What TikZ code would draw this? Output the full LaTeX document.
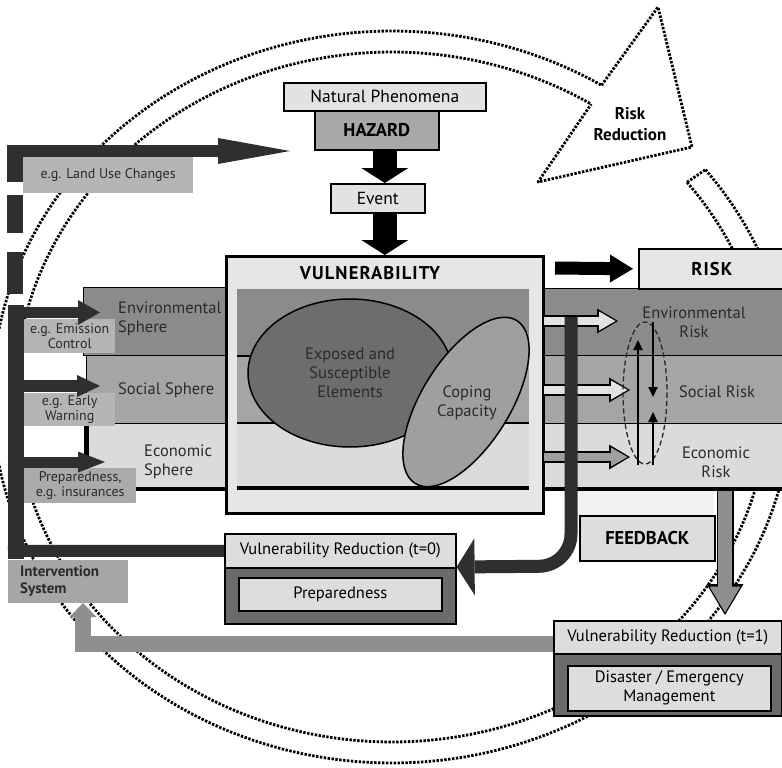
\documentclass[tikz,border=0pt]{standalone}
\usepackage{fontspec}
\setmainfont{PT Sans}
\usetikzlibrary{arrows.meta,shapes.geometric,calc}

\definecolor{bandenv}{HTML}{8B8B8B}
\definecolor{bandsoc}{HTML}{A5A5A5}
\definecolor{bandeco}{HTML}{DBDBDB}
\definecolor{lightA}{HTML}{E2E2E2}
\definecolor{lightB}{HTML}{DDDDDD}
\definecolor{boxlight}{HTML}{E6E6E6}
\definecolor{bardark}{HTML}{2F2F2F}
\definecolor{arrowgray}{HTML}{8F8F8F}
\definecolor{exposedgray}{HTML}{6D6D6D}
\definecolor{copinggray}{HTML}{9F9F9F}
\definecolor{hazardgray}{HTML}{A8A8A8}
\definecolor{notegray}{HTML}{B5B5B5}
\definecolor{notegrayB}{HTML}{AAAAAA}
\definecolor{intervgray}{HTML}{A6A6A6}
\definecolor{inkgray}{HTML}{2A2A2A}
\definecolor{framedark}{HTML}{6B6B6B}
\definecolor{stripgray}{HTML}{F1F1F1}

\tikzset{
  ringline/.style={draw=black, line width=2.8pt, dash pattern=on 2.4pt off 1.5pt},
  framebox/.style={draw=black, line width=1.6pt, inner sep=0pt, anchor=north west},
  txt/.style={inner sep=0pt, align=center, font=\fontsize{16.5}{19}\selectfont},
  smalltxt/.style={inner sep=0pt, align=center, text=inkgray, font=\fontsize{14}{15}\selectfont},
  headtxt/.style={inner sep=0pt, align=center, font=\bfseries\fontsize{18.5}{21}\selectfont},
  notebox/.style={fill=notegray, inner sep=0pt, anchor=north west},
  bandline/.style={draw=black, line width=1.2pt},
}

\begin{document}
\begin{tikzpicture}[x=1pt,y=-1pt]
\useasboundingbox (0,0) rectangle (782,768);
\clip (0,0) rectangle (782,768);
\fill[white] (0,0) rectangle (782,768);

% ---------- the dotted risk-reduction cycle ----------
\draw[ringline] plot[domain=-38.4:301.6, samples=220] ({392+400*cos(\x)},{397+366*sin(\x)});
\draw[ringline] plot[domain=-38.5:301.9, samples=220] ({392+377*cos(\x)},{397+345*sin(\x)});
\coordinate (oHead) at ({392+400*cos(301.6)},{397+366*sin(301.6)});
\coordinate (iHead) at ({392+377*cos(301.9)},{397+345*sin(301.9)});
\coordinate (oTail) at ({392+400*cos(-38.4)},{397+366*sin(-38.4)});
\coordinate (iTail) at ({392+377*cos(-38.5)},{397+345*sin(-38.5)});
\coordinate (rrTop) at (658,7);
\coordinate (rrTip) at (692,147);
\coordinate (rrLow) at (538,182);
\draw[ringline, line join=round] (oHead) -- (rrTop) -- (rrTip) -- (rrLow) -- (iHead);
\draw[ringline] (iTail) -- (oTail);
\node[headtxt, font=\bfseries\fontsize{17}{21}\selectfont] (rrT) at (630,124) {Risk\\Reduction};

% ---------- intervention column on the left ----------
\fill[bardark] (7,145) rectangle (23,182);
\fill[bardark] (7,195) rectangle (23,233);
\fill[bardark] (7,252) rectangle (23,294);

\node[notebox, minimum width=170pt, minimum height=36pt, smalltxt] (landuse) at (23,157) {e.g. Land Use Changes};
\coordinate (luStart) at (7,151);
\coordinate (luTip) at (290,151);
\draw[bardark, line width=12pt, -{Triangle[length=72pt,width=26pt,line width=0pt]}] (luStart) -- (luTip);

% spheres
\node[bandline, fill=bandenv, anchor=north west, inner sep=0pt, minimum width=145pt, minimum height=68pt] (envBand) at (83,287) {};
\node[bandline, fill=bandsoc, anchor=north west, inner sep=0pt, minimum width=142pt, minimum height=68pt] (socBand) at (86,355) {};
\node[bandline, fill=bandeco, anchor=north west, inner sep=0pt, minimum width=140pt, minimum height=66pt] (ecoBand) at (88,423) {};
\draw[line width=4pt] (136,489) -- (228,489);
\draw[line width=4pt] (86,423) -- (86,456);
\node[txt, anchor=west, align=left, text=inkgray] (envS) at (118,319) {Environmental\\Sphere};
\node[txt, anchor=west, text=inkgray] (socS) at (118,390) {Social Sphere};
\node[txt, anchor=west, align=left, text=inkgray] (ecoS) at (144,462) {Economic\\Sphere};

\node[notebox, minimum width=91pt, minimum height=34pt, smalltxt] (emission) at (24,319) {e.g. Emission\\Control};
\node[notebox, minimum width=91pt, minimum height=33pt, smalltxt] (early) at (24,393) {e.g. Early\\Warning};
\node[notebox, fill=notegrayB, minimum width=112pt, minimum height=35pt, smalltxt] (prepnote) at (24,468) {Preparedness,\\e.g. insurances};

\coordinate (colTop) at (16,305);
\coordinate (colBottom) at (16,559);
\draw[bardark, line width=16pt] (colTop) -- (colBottom);
\coordinate (envIn) at (100,312.5);
\coordinate (socIn) at (100,386);
\coordinate (ecoIn) at (105,462);
\draw[bardark, line width=11pt, -{Triangle[length=22pt,width=25pt,line width=0pt]}] (13,312.5) -- (envIn);
\draw[bardark, line width=12pt, -{Triangle[length=23pt,width=22pt,line width=0pt]}] (13,386) -- (socIn);
\draw[bardark, line width=11pt, -{Triangle[length=27pt,width=21pt,line width=0pt]}] (13,462) -- (ecoIn);

\node[notebox, fill=intervgray, minimum width=120pt, minimum height=43pt] (interv) at (8,560) {};
\node[anchor=west, align=left, inner sep=0pt, font=\bfseries\fontsize{15}{17}\selectfont, text=inkgray] (intervT) at (20,581.5) {Intervention\\System};

% ---------- risk bands on the right ----------
\node[bandline, fill=bandenv, anchor=north west, inner sep=0pt, minimum width=250pt, minimum height=67pt] (envRisk) at (542,288) {};
\node[bandline, fill=bandsoc, anchor=north west, inner sep=0pt, minimum width=250pt, minimum height=68pt] (socRisk) at (542,355) {};
\node[bandline, fill=bandeco, anchor=north west, inner sep=0pt, minimum width=250pt, minimum height=66pt] (ecoRisk) at (542,423) {};
\draw[line width=4pt] (542,489) -- (790,489);
\node[txt, text=inkgray] (envRT) at (694,322) {Environmental\\Risk};
\node[txt, text=inkgray] (socRT) at (717,392) {Social Risk};
\node[txt, text=inkgray] (ecoRT) at (716,462) {Economic\\Risk};

% ---------- hazard chain ----------
\node[framebox, fill=lightA, minimum width=202pt, minimum height=28pt, txt, font=\fontsize{17.5}{19}\selectfont] (natural) at (283,82) {Natural Phenomena};
\node[framebox, fill=hazardgray, minimum width=124pt, minimum height=39pt, headtxt] (hazard) at (314,110) {HAZARD};
\node[framebox, fill=lightA, minimum width=94pt, minimum height=29pt, txt, font=\fontsize{17.5}{19}\selectfont] (event) at (330,183) {Event};

% ---------- vulnerability ----------
\node[draw=black, line width=3pt, fill=boxlight, anchor=north west, inner sep=0pt, minimum width=317pt, minimum height=257pt] (vuln) at (225,255) {};
\fill[bandenv] (237,289) rectangle (529,356);
\fill[bandsoc] (237,356) rectangle (529,423);
\fill[bandeco] (237,423) rectangle (529,488);
\draw[line width=1.2pt] (237,356) -- (529,356) (237,423) -- (529,423);
\draw[line width=4.5pt] (237,488) -- (529,488);
\node[headtxt] (vulnT) at (370,273) {\addfontfeature{LetterSpace=6}VULNERABILITY};
\node[draw=black, line width=1.5pt, ellipse, fill=exposedgray, minimum width=204pt, minimum height=148pt, inner sep=0pt, txt, text=inkgray] (exposed) at (350,373) {Exposed and\\Susceptible\\Elements};
\node[draw=black, line width=1.5pt, ellipse, fill=copinggray, minimum width=192pt, minimum height=88pt, rotate=58, inner sep=0pt] (coping) at (466,402) {};
\node[txt, text=inkgray] (copingT) at (467,403) {Coping\\Capacity};

\draw[black, line width=24pt, -{Triangle[length=15pt,width=47pt,line width=0pt]}] (hazard.south -| natural.south) -- (event.north -| natural.south);
\draw[black, line width=24pt, -{Triangle[length=15pt,width=47pt,line width=0pt]}] (event.south -| natural.south) -- (vuln.north -| natural.south);

% ---------- risk ----------
\node[framebox, fill=boxlight, minimum width=146pt, minimum height=40pt, headtxt] (risk) at (638,248) {\addfontfeature{LetterSpace=6}RISK};
\draw[black, line width=13pt, -{Triangle[length=23pt,width=28pt,line width=0pt]}] (555,268) -- ($(risk.west)+(-5,0)$);

% outlined arrows from vulnerability into the risk bands
\draw[black, line width=12pt, -{Triangle[length=21pt,width=25pt,line width=0pt]}] (543.5,321) -- (618,321);
\draw[lightA, line width=8.5pt, shorten >=2.5pt, -{Triangle[length=16.5pt,width=19pt,line width=0pt]}] (543.5,321) -- (618,321);
\draw[black, line width=12pt, -{Triangle[length=21pt,width=25pt,line width=0pt]}] (543.5,390) -- (630,390);
\draw[lightA, line width=8.5pt, shorten >=2.5pt, -{Triangle[length=16.5pt,width=19pt,line width=0pt]}] (543.5,390) -- (630,390);
\draw[black, line width=12pt, -{Triangle[length=21pt,width=25pt,line width=0pt]}] (543.5,457) -- (630,457);
\draw[copinggray, line width=8.5pt, shorten >=2.5pt, -{Triangle[length=16.5pt,width=19pt,line width=0pt]}] (543.5,457) -- (630,457);

% interaction between the risk spheres
\draw[black!85, line width=1.3pt, dash pattern=on 5pt off 3pt] (645,393) ellipse [x radius=22, y radius=71];
\draw[black, line width=2pt, -{Triangle[length=10pt,width=9pt]}] (638,465) -- (638,340);
\draw[black, line width=2pt, -{Triangle[length=10pt,width=9pt]}] (653,322) -- (653,397);
\draw[black, line width=2pt, -{Triangle[length=10pt,width=9pt]}] (653,465) -- (653,412);

% ---------- reduction at t=0 ----------
\node[framebox, fill=lightB, minimum width=231pt, minimum height=34pt, txt] (vr0) at (224,533) {Vulnerability Reduction (t=0)};
\node[framebox, fill=framedark, minimum width=231pt, minimum height=56pt] (vr0box) at (224,567) {};
\node[framebox, fill=lightB, minimum width=203pt, minimum height=33pt, txt] (prep0) at (238,577) {Preparedness};
\coordinate (barLeft) at (8,551);
\draw[bardark, line width=12pt] (vr0.west) -- (barLeft);

% ---------- feedback ----------
\fill[stripgray] (579,491) rectangle (714,515);
\node[framebox, fill=lightB, minimum width=135pt, minimum height=45pt, headtxt] (feedback) at (579,515) {FEEDBACK};
\coordinate (fbStart) at (571,317);
\coordinate (fbBend) at (571,566);
\draw[bardark, line width=13pt, rounded corners=32pt, -{Triangle[length=18pt,width=57pt,line width=0pt]}] (fbStart) -- (fbBend) -- (vr0box.north east);

\coordinate (downStart) at (725,491);
\coordinate (downTip) at (725,615);
\draw[black, line width=17pt, -{Triangle[length=31pt,width=37pt,line width=0pt]}] (downStart) -- (downTip);
\draw[arrowgray, line width=13.5pt, shorten >=2.5pt, -{Triangle[length=26pt,width=31pt,line width=0pt]}] (downStart) -- (downTip);

% ---------- reduction at t=1 ----------
\coordinate (backStart) at (553,644);
\coordinate (backCorner) at (83,644);
\coordinate (backTip) at (83,603);
\draw[arrowgray, line width=16pt, line join=miter, -{Triangle[length=14pt,width=27pt,line width=0pt]}] (backStart) -- (backCorner) -- (backTip);
\node[framebox, fill=lightB, minimum width=228pt, minimum height=33pt, txt] (vr1) at (553,620) {Vulnerability Reduction (t=1)};
\node[framebox, fill=framedark, minimum width=228pt, minimum height=62pt] (vr1box) at (553,653) {};
\node[framebox, fill=lightB, minimum width=203pt, minimum height=45pt, txt] (disaster) at (567,665) {Disaster / Emergency\\Management};
\end{tikzpicture}
\end{document}
